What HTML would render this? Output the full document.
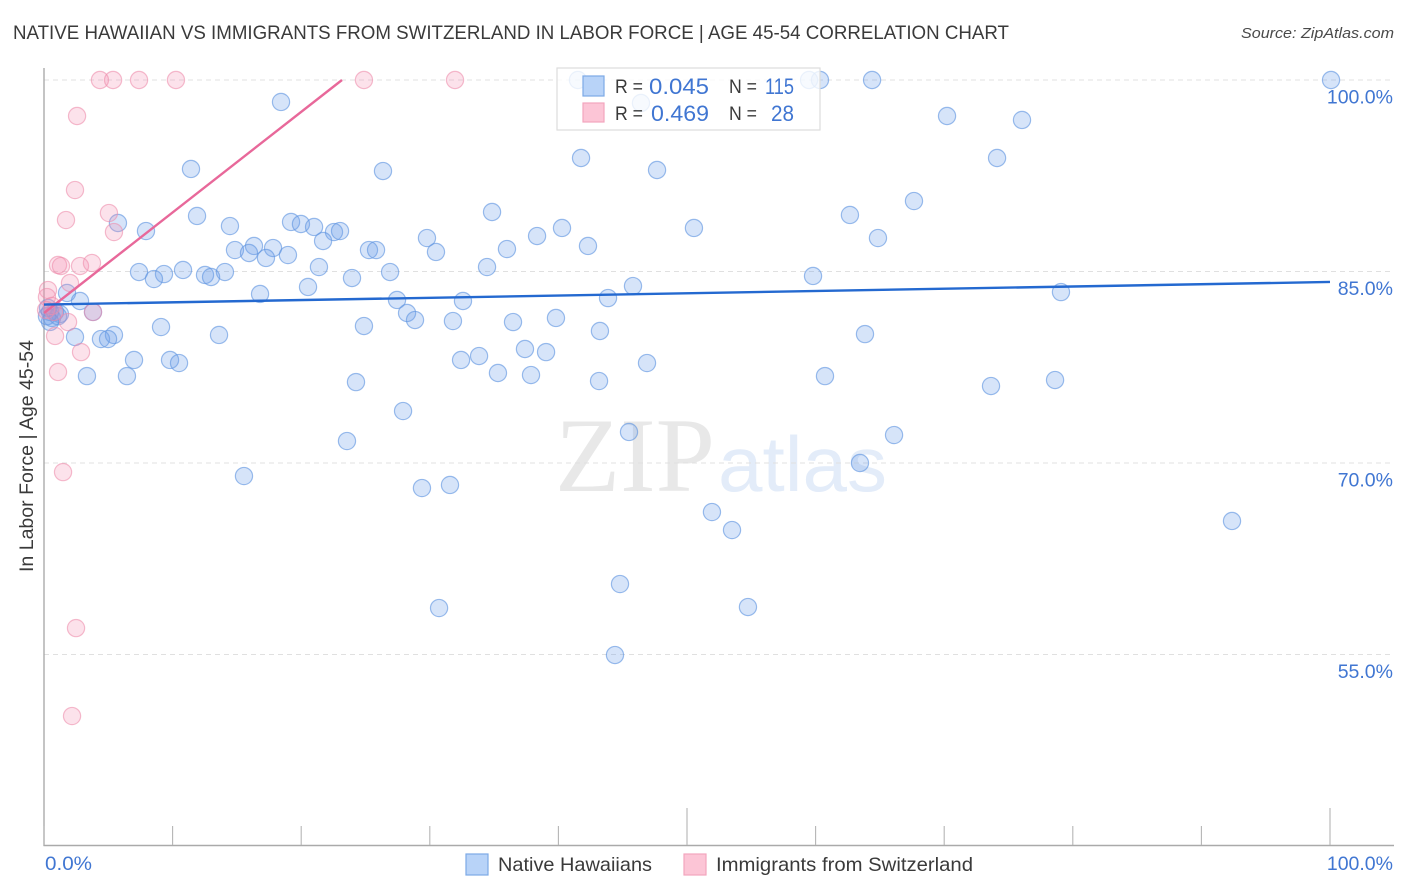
<!DOCTYPE html>
<html lang="en">
<head>
<meta charset="utf-8">
<title>Native Hawaiian vs Immigrants from Switzerland Correlation Chart</title>
<style>
html,body{margin:0;padding:0;background:#fff;width:1406px;height:892px;overflow:hidden}
svg{display:block}
text{font-family:"Liberation Sans",sans-serif}
</style>
</head>
<body>
<svg id="chart" xmlns="http://www.w3.org/2000/svg" width="1406" height="892" viewBox="0 0 1406 892">
  <rect x="0" y="0" width="1406" height="892" fill="#ffffff"/>
  <text x="13" y="39" font-size="19" fill="#3a3a3a" textLength="996" lengthAdjust="spacingAndGlyphs">NATIVE HAWAIIAN VS IMMIGRANTS FROM SWITZERLAND IN LABOR FORCE | AGE 45-54 CORRELATION CHART</text>
  <text x="1394" y="38" font-size="15" font-style="italic" fill="#4a4a4a" text-anchor="end" textLength="153" lengthAdjust="spacingAndGlyphs">Source: ZipAtlas.com</text>
  <g>
    <text x="555" y="491" font-size="106" fill="#e8e8e8" style="font-family:'Liberation Serif',serif" textLength="160" lengthAdjust="spacingAndGlyphs">ZIP</text>
    <text x="718" y="491" font-size="78" fill="#e3ecf9" textLength="169" lengthAdjust="spacingAndGlyphs">atlas</text>
  </g>
  <g id="grid"></g>
  <g id="axes"></g>
  <g id="points-blue"></g>
  <g id="points-pink"></g>
  <g id="trends"></g>
  <text transform="translate(33,456) rotate(-90)" font-size="19" fill="#3a3a3a" text-anchor="middle" textLength="232" lengthAdjust="spacingAndGlyphs">In Labor Force | Age 45-54</text>

  <g>
    <rect x="557" y="68" width="263" height="62" fill="#ffffff" fill-opacity="0.8" stroke="#dddddd" stroke-width="1.2"/>
    <rect x="583" y="76" width="21" height="20" fill="#b8d3f8" stroke="#7da9e6" stroke-width="1.2"/>
    <rect x="583" y="103" width="21" height="19" fill="#fcc5d6" stroke="#f2a5bd" stroke-width="1.2"/>
    <text x="615" y="93" font-size="19" fill="#3a3a3a" textLength="28" lengthAdjust="spacingAndGlyphs">R =</text>
    <text x="649" y="94" font-size="22" fill="#4076d2" textLength="60" lengthAdjust="spacingAndGlyphs">0.045</text>
    <text x="729" y="93" font-size="19" fill="#3a3a3a" textLength="28" lengthAdjust="spacingAndGlyphs">N =</text>
    <text x="765" y="94" font-size="22" fill="#4076d2" textLength="29" lengthAdjust="spacingAndGlyphs">115</text>
    <text x="615" y="120" font-size="19" fill="#3a3a3a" textLength="28" lengthAdjust="spacingAndGlyphs">R =</text>
    <text x="651" y="121" font-size="22" fill="#4076d2" textLength="58" lengthAdjust="spacingAndGlyphs">0.469</text>
    <text x="729" y="120" font-size="19" fill="#3a3a3a" textLength="28" lengthAdjust="spacingAndGlyphs">N =</text>
    <text x="771" y="121" font-size="22" fill="#4076d2" textLength="23" lengthAdjust="spacingAndGlyphs">28</text>
  </g>

  <g>
    <rect x="466" y="854" width="22" height="21" fill="#b8d3f8" stroke="#7da9e6" stroke-width="1.2"/>
    <text x="498" y="871" font-size="19.5" fill="#3a3a3a" textLength="154" lengthAdjust="spacingAndGlyphs">Native Hawaiians</text>
    <rect x="684" y="854" width="22" height="21" fill="#fcc5d6" stroke="#f2a5bd" stroke-width="1.2"/>
    <text x="716" y="871" font-size="19.5" fill="#3a3a3a" textLength="257" lengthAdjust="spacingAndGlyphs">Immigrants from Switzerland</text>
  </g>
</svg>
<script>
const yTickValues = [100, 85, 70, 55];
const yTickLabels = ["100.0%", "85.0%", "70.0%", "55.0%"];
const xTickValues = [0, 10, 20, 30, 40, 50, 60, 70, 80, 90, 100];
const xMajorTicks = [50, 100];
const xEndValues = [0, 100];
const xEndLabels = ["0.0%", "100.0%"];

const nativeHawaiiansX = [41.52,59.49,60.34,64.39,100.08,18.43,46.42,70.22,76.05,41.76,74.11,11.43,26.36,47.67,67.65,34.84,62.67,11.90,5.75,14.46,19.21,19.98,21.00,7.93,22.55,23.02,50.54,40.28,38.34,64.85,29.78,21.70,14.85,16.33,17.81,15.94,17.26,18.97,25.27,25.82,30.48,36.00,42.30,21.38,34.45,7.39,10.81,14.07,9.33,8.55,12.52,12.99,26.91,23.95,59.80,20.53,45.80,79.08,16.80,1.79,2.80,27.45,32.58,43.86,28.23,28.85,31.80,39.81,36.47,3.81,0.62,1.24,0.86,9.10,24.88,43.23,63.84,13.61,5.44,4.43,4.98,2.41,37.40,39.04,33.83,32.43,7.00,9.80,10.50,46.89,3.34,6.45,35.30,37.87,60.73,24.26,43.16,78.62,73.64,27.92,23.56,45.49,66.10,63.45,15.55,29.39,31.57,51.94,53.50,92.38,44.79,30.72,54.74,44.40,0.47,0.23,0.31,1.09,0.47];
const nativeHawaiiansY = [100,100,100,100,100,98.28,98.20,97.18,96.87,93.89,93.89,93.03,92.87,92.95,90.52,89.66,89.43,89.35,88.80,88.56,88.88,88.72,88.49,88.17,88.09,88.17,88.41,88.41,87.78,87.62,87.62,87.39,86.68,87.00,86.84,86.45,86.06,86.29,86.68,86.68,86.53,86.76,87.00,85.35,85.35,84.96,85.12,84.96,84.80,84.41,84.73,84.57,84.96,84.49,84.65,83.79,83.86,83.39,83.24,83.32,82.69,82.77,82.69,82.92,81.75,81.20,81.12,81.36,81.04,81.83,81.36,81.67,81.83,80.65,80.73,80.34,80.10,80.03,80.03,79.71,79.71,79.87,78.93,78.69,78.38,78.07,78.07,78.07,77.83,77.83,76.81,76.81,77.05,76.89,76.81,76.34,76.42,76.50,76.03,74.07,71.72,72.43,72.19,70.00,68.98,68.04,68.28,66.16,64.75,65.46,60.52,58.64,58.72,54.96,81.83,81.50,82.15,81.50,81.05];

const immigrantsX = [4.35,5.37,7.39,10.26,24.88,31.96,2.57,2.41,5.05,1.71,5.44,1.09,1.32,2.80,3.73,2.02,0.31,0.23,0.62,0.16,0.78,3.81,1.87,0.86,2.88,1.09,1.48,2.49,2.18];
const immigrantsY = [100,100,100,100,100,100,97.18,91.38,89.58,89.03,88.09,85.51,85.43,85.43,85.67,84.10,83.55,83.00,82.30,81.98,81.83,81.83,81.04,79.95,78.69,77.13,69.29,57.07,50.18];

const blueTrendX = [0, 100];
const blueTrendY = [82.41, 84.18];
const pinkTrendX = [0, 23.17];
const pinkTrendY = [81.75, 100];

const xScale = v => 44 + v * 12.86;
const yScale = v => 80 + (100 - v) * 12.767;
const NS = "http://www.w3.org/2000/svg";
function make(parent, tag, attrs, text) {
  const el = document.createElementNS(NS, tag);
  for (const k in attrs) el.setAttribute(k, attrs[k]);
  if (text !== undefined) el.textContent = text;
  parent.appendChild(el);
  return el;
}

const grid = document.getElementById("grid");
const axes = document.getElementById("axes");

yTickValues.forEach((v, i) => {
  const line = make(grid, "line", {x1: 44, x2: 1394, y1: yScale(v), y2: yScale(v), stroke: "#e0e0e0", "stroke-width": 1, "stroke-dasharray": "5 4"});
  
  
  const label = make(axes, "text", {x: 1393, y: yScale(v) + 23.5, "font-size": 19.5, fill: "#4076d2", "text-anchor": "end"}, yTickLabels[i]);
  
  
});

const yAxis = make(axes, "line", {x1: 44, x2: 44, y1: 68, y2: 846, stroke: "#aaaaaa", "stroke-width": 1.4});


const xAxis = make(axes, "line", {x1: 43.5, x2: 1394, y1: 845.5, y2: 845.5, stroke: "#aaaaaa", "stroke-width": 1.4});



xTickValues.forEach(v => {
  const top = xMajorTicks.includes(v) ? 808 : 826;
  const tick = make(axes, "line", {x1: xScale(v), x2: xScale(v), y1: top, y2: 845, stroke: "#b5b5b5", "stroke-width": 1.1});
  
  
});

xEndValues.forEach((v, i) => {
  const attrs = v === 0
    ? {x: xScale(v) + 1, y: 870, "font-size": 19.5, fill: "#4076d2", textLength: 47, lengthAdjust: "spacingAndGlyphs"}
    : {x: 1393, y: 870, "font-size": 19.5, fill: "#4076d2", "text-anchor": "end"};
  const label = make(axes, "text", attrs, xEndLabels[i]);
  
  
});

const blueGroup = document.getElementById("points-blue");
nativeHawaiiansX.forEach((x, i) => {
  const c = make(blueGroup, "circle", {cx: xScale(x), cy: yScale(nativeHawaiiansY[i]), r: 8.6, fill: "#6a9fe8", "fill-opacity": 0.28, stroke: "#5f94e0", "stroke-opacity": 0.62, "stroke-width": 1.2});
  
  
});

const pinkGroup = document.getElementById("points-pink");
immigrantsX.forEach((x, i) => {
  const c = make(pinkGroup, "circle", {cx: xScale(x), cy: yScale(immigrantsY[i]), r: 8.6, fill: "#f48fb1", "fill-opacity": 0.26, stroke: "#ee8bab", "stroke-opacity": 0.58, "stroke-width": 1.2});
  
  
});

const trends = document.getElementById("trends");
const pinkTrend = make(trends, "line", {x1: xScale(pinkTrendX[0]), y1: yScale(pinkTrendY[0]), x2: xScale(pinkTrendX[1]), y2: yScale(pinkTrendY[1]), stroke: "#e8689a", "stroke-width": 2.4});


const blueTrend = make(trends, "line", {x1: xScale(blueTrendX[0]), y1: yScale(blueTrendY[0]), x2: xScale(blueTrendX[1]), y2: yScale(blueTrendY[1]), stroke: "#2469d0", "stroke-width": 2.4});


</script>
</body>
</html>
